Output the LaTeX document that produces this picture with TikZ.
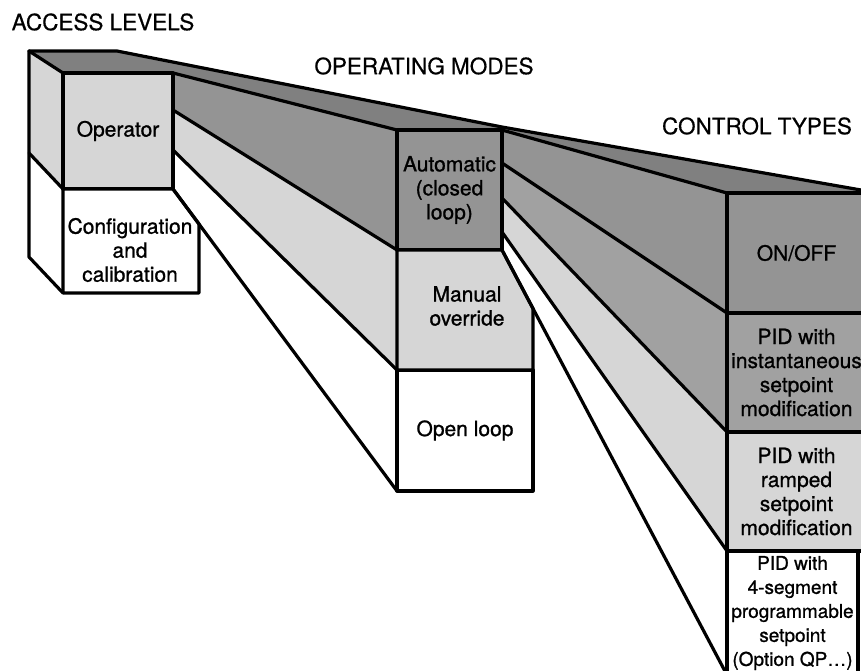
\documentclass[tikz,border=0pt]{standalone}
\usepackage{fontspec}
\setmainfont{TeX Gyre Heros}
\newfontfamily\lblfont{TeX Gyre Heros}[FakeBold=1]
\newfontfamily\headfont{TeX Gyre Heros}[FakeBold=0.5]
\pgfdeclarelayer{background}
\pgfsetlayers{background,main}

\begin{document}
\begin{tikzpicture}[x=1pt,y=-1pt,line width=3.2pt,line join=round,line cap=round,
  face/.style={draw=black,rectangle,outer sep=0pt,inner sep=0pt,align=center,font=\lblfont\fontsize{21}{24}\selectfont},
  lbl/.style={align=center,font=\lblfont\fontsize{21}{24}\selectfont,inner sep=0pt},
  head/.style={font=\headfont\fontsize{22.5}{27}\selectfont,inner sep=0pt},
  shadeTop/.style={fill=black!50},
  shadeDark/.style={fill=black!42},
  shadeMid/.style={fill=black!37},
  shadeLight/.style={fill=black!16}]

\useasboundingbox (0,0) rectangle (861,670);
\clip (0,0) rectangle (861,670);

% headings
\node[head] (accH) at (103,22) {ACCESS LEVELS};
\node[head] (opmH) at (424,66) {OPERATING MODES};
\node[head] (ctlH) at (757,126) {CONTROL TYPES};

% access levels
\coordinate (aBL) at (29,51);
\coordinate (aBR) at (117,51);
\coordinate (aBM) at (29,153);
\coordinate (aBB) at (29,257);
\coordinate (opS1) at (173,110);
\coordinate (opS2) at (173,150);
\coordinate (cfC) at (199,224);
\coordinate (cfBR) at (199,293);
\coordinate (cfBL) at (63,293);
\node[face,shadeLight,minimum width=110pt,minimum height=116pt] (oper) at (118,131) {Operator};

% operating modes
\coordinate (auS1) at (502,163);
\coordinate (auS2) at (502,198);
\coordinate (auS3) at (502,232);
\coordinate (maC) at (533,308.6);
\node[face,shadeDark,minimum width=105pt,minimum height=120pt] (auto) at (449.5,190) {Automatic\\(closed\\loop)};
\node[face,minimum width=136pt,minimum height=121pt] (open) at (465,430.5) {Open loop};

% control types
\node[face,shadeDark,minimum width=139pt,minimum height=120pt] (onoff) at (796.5,253) {ON/OFF};
\node[face,shadeMid,minimum width=139pt,minimum height=119pt] (pidi) at (796.5,372.5) {PID with\\instantaneous\\setpoint\\modification};
\node[face,shadeLight,minimum width=139pt,minimum height=119pt] (pidr) at (796.5,491.5) {PID with\\ramped\\setpoint\\modification};
\node[face,minimum width=131pt,minimum height=124pt,font=\lblfont\fontsize{19}{24}\selectfont] (pids) at (792.5,613) {PID with\\4-segment\\programmable\\setpoint\\(Option QP\ldots)};

\coordinate (topM) at (502,127);
\coordinate (topR) at (861,190);

% outline of the blocks
\draw (aBL) -- (aBR) -- (topM) -- (topR);
\draw (aBL) -- (oper.north west);
\draw (aBL) -- (aBB) -- (cfBL);
\draw (aBM) -- (oper.south west);

\filldraw[fill=white] (oper.south west) -- (oper.south east) -- (cfC) -- (cfBR) -- (cfBL) -- cycle;
\node[lbl] (conf) at (130,250) {Configuration\\and\\calibration};
\filldraw[shadeLight] (auto.south west) -- (auto.south east) -- (maC) -- (open.north east) -- (open.north west) -- cycle;
\node[lbl] (manu) at (467,306) {Manual\\override};

% funnels
\draw (oper.north east) -- (auto.north west);
\draw (opS1) -- (auto.south west);
\draw (opS2) -- (open.north west);
\draw (oper.south east) -- (open.south west);
\draw (auto.north east) -- (onoff.north west);
\draw (auS1) -- (onoff.south west);
\draw (auS2) -- (pidi.south west);
\draw (auS3) -- (pidr.south west);
\draw (auto.south east) -- (pids.south west);

% shading behind
\begin{pgfonlayer}{background}
\fill[shadeTop] (aBL) -- (aBR) -- (topM) -- (topR) -- (onoff.north east) -- (onoff.north west) -- (auto.north east) -- (auto.north west) -- (oper.north east) -- (oper.north west) -- cycle;
\fill[shadeLight] (aBL) -- (oper.north west) -- (oper.south west) -- (aBM) -- cycle;
\fill[shadeDark] (oper.north east) -- (auto.north west) -- (auto.south west) -- (opS1) -- cycle;
\fill[shadeLight] (opS1) -- (auto.south west) -- (open.north west) -- (opS2) -- cycle;
\fill[shadeDark] (auto.north east) -- (onoff.north west) -- (onoff.south west) -- (auS1) -- cycle;
\fill[shadeMid] (auS1) -- (onoff.south west) -- (pidi.south west) -- (auS2) -- cycle;
\fill[shadeLight] (auS2) -- (pidi.south west) -- (pidr.south west) -- (auS3) -- cycle;
\end{pgfonlayer}

\end{tikzpicture}
\end{document}
